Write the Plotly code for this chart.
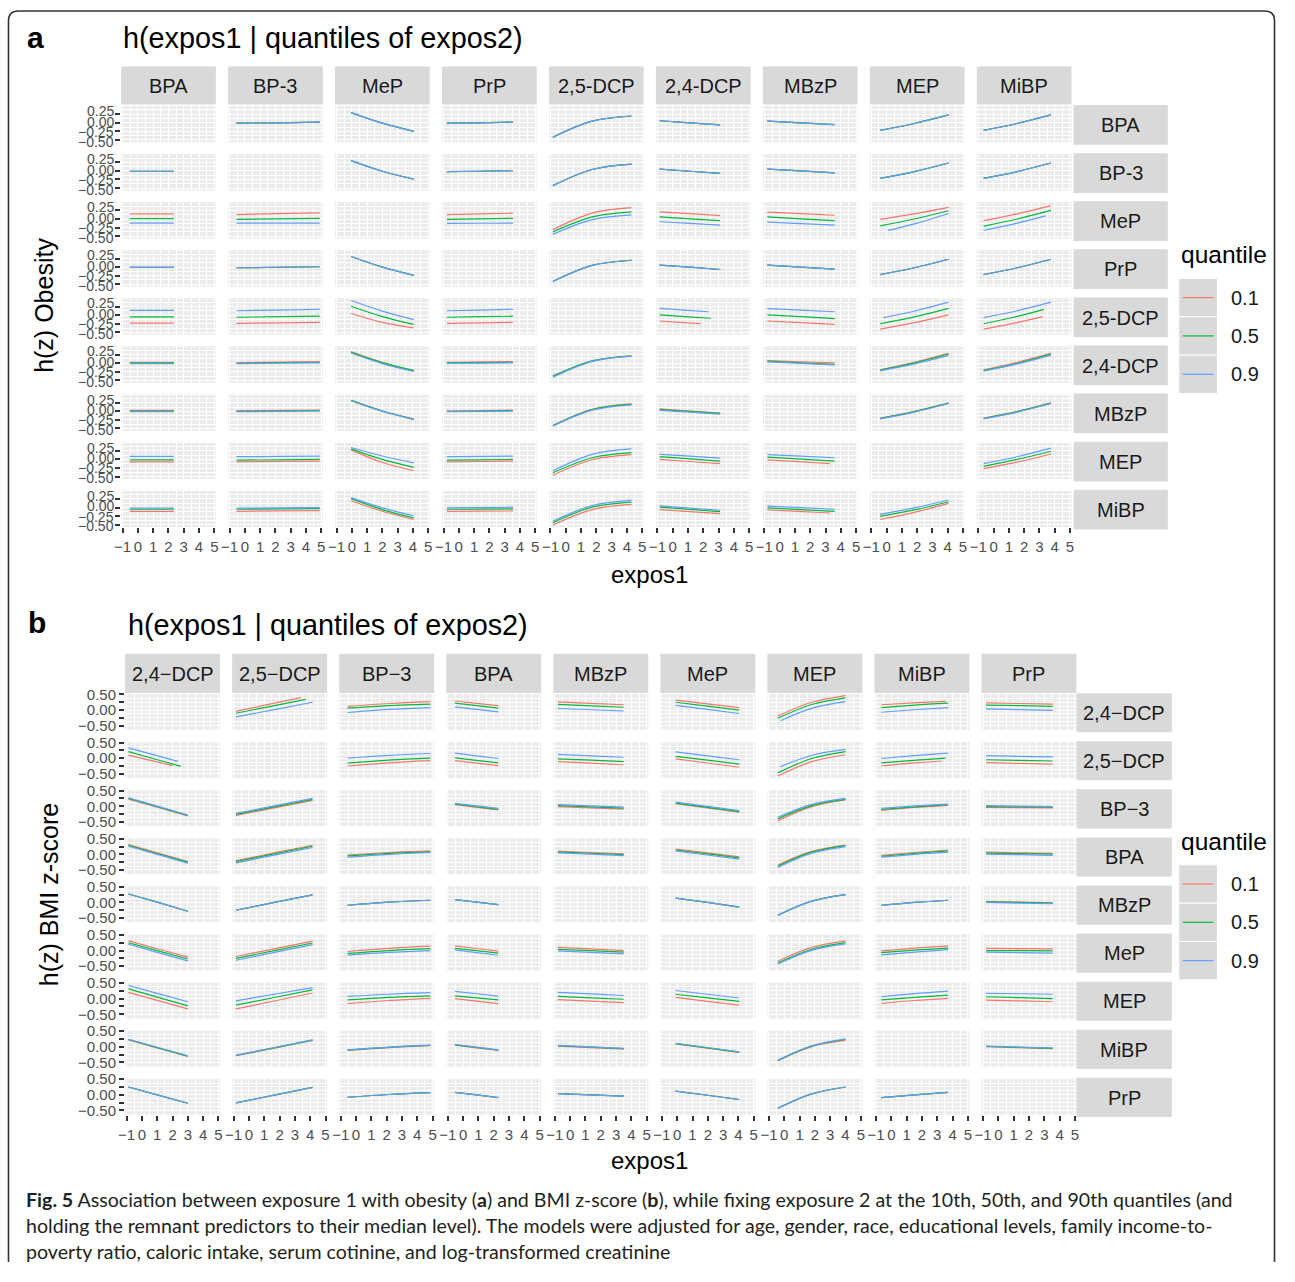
import plotly.graph_objects as go

# ---------------------------------------------------------------------------
# Data: h(expos1 | quantile of expos2).  Each cell is (start, middle, end) of
# the fitted curve over the observed range of expos1 for that column chemical.
# None marks the diagonal (a chemical paired with itself).
# ---------------------------------------------------------------------------
N = None

# ---- panel a: obesity ----
OB_VARS = ["BPA", "BP-3", "MeP", "PrP", "2,5-DCP", "2,4-DCP", "MBzP", "MEP", "MiBP"]
OB_XSPAN = [(-0.53, 2.35), (-0.55, 4.9), (-0.05, 4.05), (-0.78, 3.55), (-0.84, 4.3),
            (-0.85, 3.1), (-0.8, 3.6), (-0.42, 4.05), (-0.65, 3.75)]

OB_ROW_BPA = [N, (-0.01, 0.0, 0.02), (0.30, -0.01, -0.25), (-0.01, 0.0, 0.02), (-0.42, 0.05, 0.20),
              (0.06, 0.0, -0.06), (0.05, 0.0, -0.05), (-0.22, -0.02, 0.23), (-0.22, -0.02, 0.23)]
OB_ROW_BP3 = [(-0.01, -0.01, -0.01), N, (0.30, -0.01, -0.24), (-0.02, -0.01, 0.01), (-0.43, 0.04, 0.20),
              (0.05, -0.01, -0.07), (0.05, 0.0, -0.06), (-0.22, -0.02, 0.23), (-0.22, -0.02, 0.23)]
OB_ROW_PRP = [(-0.01, -0.01, -0.01), (-0.02, -0.005, 0.01), (0.31, 0.0, -0.24), N, (-0.42, 0.05, 0.20),
              (0.06, 0.0, -0.07), (0.06, 0.0, -0.06), (-0.22, -0.02, 0.23), (-0.22, -0.02, 0.23)]

OB_Q10 = [
    OB_ROW_BPA,
    OB_ROW_BP3,
    [(0.15, 0.15, 0.15), (0.13, 0.155, 0.18), N, (0.13, 0.15, 0.17), (-0.31, 0.17, 0.33),
     (0.21, 0.155, 0.10), (0.20, 0.155, 0.11), (-0.01, 0.15, 0.34), (-0.05, 0.15, 0.39)],
    OB_ROW_PRP,
    [(-0.23, -0.23, -0.23), (-0.24, -0.225, -0.21), (0.05, -0.21, -0.37), (-0.24, -0.225, -0.21), N,
     (-0.17, -0.21, -0.25), (-0.17, -0.22, -0.27), (-0.41, -0.22, 0.01), (-0.41, -0.24, -0.04)],
    [(0.03, 0.03, 0.03), (0.02, 0.035, 0.05), (0.34, 0.02, -0.22), (0.03, 0.04, 0.05), (-0.37, 0.065, 0.21),
     N, (0.08, 0.045, 0.01), (-0.19, 0.03, 0.29), (-0.19, 0.03, 0.29)],
    [(0.03, 0.03, 0.03), (0.02, 0.03, 0.04), (0.32, 0.01, -0.22), (0.01, 0.025, 0.04), (-0.41, 0.06, 0.22),
     (0.07, 0.01, -0.05), N, (-0.20, 0.0, 0.25), (-0.20, 0.0, 0.25)],
    [(-0.07, -0.07, -0.07), (-0.07, -0.06, -0.05), (0.28, -0.09, -0.33), (-0.07, -0.06, -0.05), (-0.46, -0.01, 0.14),
     (0.0, -0.06, -0.12), (-0.01, -0.065, -0.12), N, (-0.27, -0.08, 0.16)],
    [(-0.11, -0.11, -0.11), (-0.11, -0.10, -0.09), (0.20, -0.11, -0.35), (-0.11, -0.105, -0.10), (-0.51, -0.06, 0.09),
     (-0.06, -0.12, -0.18), (-0.07, -0.115, -0.16), (-0.35, -0.14, 0.12), N],
]
OB_Q50 = [
    OB_ROW_BPA,
    OB_ROW_BP3,
    [(0.01, 0.01, 0.01), (-0.01, 0.005, 0.02), N, (-0.01, 0.005, 0.02), (-0.38, 0.06, 0.21),
     (0.06, 0.005, -0.05), (0.06, 0.005, -0.05), (-0.20, 0.0, 0.24), (-0.21, 0.0, 0.25)],
    OB_ROW_PRP,
    [(-0.05, -0.05, -0.05), (-0.06, -0.045, -0.03), (0.26, -0.04, -0.27), (-0.06, -0.045, -0.03), N,
     (0.01, -0.04, -0.09), (0.01, -0.045, -0.10), (-0.25, -0.05, 0.20), (-0.25, -0.06, 0.17)],
    [(0.01, 0.01, 0.01), (0.0, 0.015, 0.03), (0.32, 0.02, -0.21), (0.01, 0.02, 0.03), (-0.38, 0.07, 0.22),
     N, (0.06, 0.015, -0.03), (-0.20, 0.01, 0.27), (-0.21, 0.0, 0.27)],
    [(0.01, 0.01, 0.01), (0.0, 0.01, 0.02), (0.32, 0.01, -0.23), (0.0, 0.01, 0.02), (-0.42, 0.05, 0.21),
     (0.05, 0.0, -0.06), N, (-0.21, -0.01, 0.24), (-0.21, -0.01, 0.24)],
    [(-0.01, -0.01, -0.01), (-0.02, -0.01, 0.0), (0.31, 0.0, -0.23), (-0.02, -0.01, 0.0), (-0.39, 0.05, 0.20),
     (0.08, 0.015, -0.05), (0.07, 0.01, -0.05), N, (-0.20, 0.0, 0.24)],
    [(-0.05, -0.05, -0.05), (-0.05, -0.04, -0.03), (0.26, -0.06, -0.30), (-0.05, -0.045, -0.04), (-0.44, 0.01, 0.16),
     (0.01, -0.055, -0.12), (-0.01, -0.06, -0.11), (-0.26, -0.07, 0.17), N],
]
OB_Q90 = [
    OB_ROW_BPA,
    OB_ROW_BP3,
    [(-0.12, -0.12, -0.12), (-0.12, -0.12, -0.12), N, (-0.13, -0.125, -0.12), (-0.45, -0.02, 0.12),
     (-0.08, -0.13, -0.18), (-0.09, -0.135, -0.18), (-0.34, -0.115, 0.16), (-0.33, -0.14, 0.09)],
    OB_ROW_PRP,
    [(0.14, 0.14, 0.14), (0.13, 0.15, 0.17), (0.43, 0.12, -0.13), (0.13, 0.15, 0.17), N,
     (0.20, 0.15, 0.10), (0.19, 0.145, 0.10), (-0.07, 0.13, 0.38), (-0.07, 0.13, 0.38)],
    [(-0.01, -0.01, -0.01), (-0.01, 0.0, 0.01), (0.30, -0.01, -0.24), (0.0, 0.005, 0.01), (-0.41, 0.055, 0.21),
     N, (0.04, -0.005, -0.05), (-0.22, -0.02, 0.23), (-0.23, -0.02, 0.24)],
    [(-0.01, -0.01, -0.01), (-0.01, 0.0, 0.01), (0.31, 0.0, -0.24), (-0.01, 0.0, 0.01), (-0.43, 0.035, 0.19),
     (0.03, -0.025, -0.08), N, (-0.22, -0.02, 0.23), (-0.22, -0.02, 0.23)],
    [(0.09, 0.09, 0.09), (0.08, 0.09, 0.10), (0.35, 0.10, -0.10), (0.08, 0.09, 0.10), (-0.33, 0.15, 0.31),
     (0.15, 0.095, 0.04), (0.14, 0.095, 0.05), N, (-0.12, 0.08, 0.33)],
    [(-0.02, -0.02, -0.02), (-0.02, -0.01, 0.0), (0.29, -0.01, -0.24), (-0.01, 0.0, 0.01), (-0.40, 0.06, 0.21),
     (0.05, -0.015, -0.08), (0.04, -0.005, -0.05), (-0.20, -0.01, 0.22), N],
]
# (row, col, quantile) -> (start, end) where a curve's expos1 range differs
OB_XSPAN_EDIT = {
    (2, 7, "0.9"): (0.08, None),
    (2, 8, "0.9"): (None, 3.4),
    (4, 5, "0.1"): (None, 1.85),
    (4, 5, "0.5"): (None, 2.49),
    (4, 5, "0.9"): (None, 2.36),
    (4, 7, "0.9"): (-0.2, None),
    (4, 8, "0.1"): (None, 3.21),
    (4, 8, "0.5"): (None, 3.3),
    (7, 6, "0.1"): (None, 3.29),
    (8, 6, "0.1"): (None, 3.29),
}

# ---- panel b: BMI z-score ----
BMI_VARS = ["2,4\u2212DCP", "2,5\u2212DCP", "BP\u22123", "BPA", "MBzP", "MeP", "MEP", "MiBP", "PrP"]
BMI_XSPAN = [(-0.88, 3.0), (-0.85, 4.15), (-0.55, 4.85), (-0.53, 2.3), (-0.8, 3.5),
             (-0.1, 4.05), (-0.42, 4.0), (-0.65, 3.7), (-0.8, 3.55)]

BMI_ROW_MBZP = [(0.27, 0.0, -0.28), (-0.25, 0.0, 0.24), (-0.09, 0.01, 0.07), (0.09, 0.01, -0.07), N,
                (0.14, 0.0, -0.15), (-0.41, 0.04, 0.25), (-0.09, 0.0, 0.07), (0.03, 0.01, -0.01)]
BMI_ROW_PRP = [(0.25, -0.01, -0.27), (-0.26, -0.01, 0.24), (-0.08, 0.01, 0.07), (0.08, -0.005, -0.09),
               (0.04, 0.0, -0.04), (0.12, -0.015, -0.15), (-0.43, 0.03, 0.25), (-0.09, 0.0, 0.08), N]

BMI_Q10 = [
    [N, (-0.04, 0.18, 0.40), (0.12, 0.21, 0.27), (0.29, 0.215, 0.14), (0.26, 0.215, 0.17),
     (0.32, 0.20, 0.08), (-0.19, 0.25, 0.46), (0.17, 0.23, 0.28), (0.23, 0.21, 0.19)],
    [(0.10, -0.07, -0.24), N, (-0.25, -0.15, -0.08), (-0.08, -0.16, -0.24), (-0.11, -0.16, -0.21),
     (-0.02, -0.155, -0.29), (-0.57, -0.11, 0.11), (-0.25, -0.16, -0.09), (-0.14, -0.165, -0.19)],
    [(0.23, -0.04, -0.31), (-0.29, -0.05, 0.19), N, (0.05, -0.035, -0.12), (-0.01, -0.05, -0.09),
     (0.08, -0.055, -0.19), (-0.46, -0.01, 0.20), (-0.13, -0.04, 0.03), (-0.04, -0.045, -0.05)],
    [(0.31, 0.04, -0.23), (-0.20, 0.045, 0.29), (-0.02, 0.06, 0.11), N, (0.10, 0.06, 0.02),
     (0.17, 0.045, -0.08), (-0.34, 0.095, 0.30), (-0.03, 0.06, 0.14), (0.07, 0.05, 0.03)],
    BMI_ROW_MBZP,
    [(0.31, 0.05, -0.21), (-0.19, 0.055, 0.30), (-0.03, 0.07, 0.14), (0.15, 0.065, -0.02), (0.10, 0.05, 0.0),
     N, (-0.34, 0.10, 0.31), (-0.01, 0.08, 0.15), (0.07, 0.06, 0.05)],
    [(0.20, -0.065, -0.33), (-0.33, -0.075, 0.18), (-0.16, -0.06, 0.01), (0.0, -0.08, -0.16), (-0.03, -0.08, -0.13),
     (0.04, -0.085, -0.21), N, (-0.15, -0.06, 0.01), (-0.05, -0.075, -0.10)],
    [(0.22, -0.045, -0.31), (-0.29, -0.045, 0.20), (-0.12, -0.03, 0.03), (0.05, -0.035, -0.12), (0.02, -0.03, -0.08),
     (0.09, -0.045, -0.18), (-0.45, 0.0, 0.20), N, (0.0, -0.03, -0.06)],
    BMI_ROW_PRP,
]
BMI_Q50 = [
    [N, (-0.10, 0.12, 0.34), (0.06, 0.14, 0.19), (0.22, 0.14, 0.06), (0.18, 0.135, 0.09),
     (0.25, 0.125, 0.0), (-0.26, 0.18, 0.39), (0.08, 0.16, 0.22), (0.16, 0.14, 0.12)],
    [(0.21, -0.025, -0.26), N, (-0.16, -0.06, 0.0), (0.01, -0.07, -0.15), (-0.02, -0.065, -0.11),
     (0.06, -0.065, -0.19), (-0.47, -0.01, 0.21), (-0.15, -0.07, 0.0), (-0.05, -0.07, -0.09)],
    [(0.25, -0.02, -0.29), (-0.26, -0.02, 0.22), N, (0.07, -0.015, -0.10), (0.02, -0.02, -0.06),
     (0.10, -0.035, -0.17), (-0.40, 0.02, 0.22), (-0.10, -0.02, 0.05), (-0.01, -0.02, -0.03)],
    [(0.29, 0.02, -0.25), (-0.23, 0.015, 0.26), (-0.05, 0.03, 0.08), N, (0.08, 0.035, -0.01),
     (0.14, 0.015, -0.11), (-0.38, 0.07, 0.28), (-0.06, 0.03, 0.11), (0.04, 0.025, 0.01)],
    BMI_ROW_MBZP[:8] + [(0.02, 0.0, -0.02)],
    [(0.25, -0.01, -0.27), (-0.25, -0.005, 0.24), (-0.09, 0.0, 0.06), (0.07, -0.005, -0.08), (0.04, -0.005, -0.05),
     N, (-0.40, 0.04, 0.25), (-0.07, 0.01, 0.08), (0.0, -0.005, -0.01)],
    [(0.31, 0.04, -0.23), (-0.21, 0.035, 0.28), (-0.04, 0.04, 0.09), (0.09, 0.025, -0.04), (0.07, 0.025, -0.02),
     (0.14, 0.025, -0.09), N, (-0.04, 0.04, 0.11), (0.06, 0.03, 0.0)],
    [(0.23, -0.035, -0.30), (-0.28, -0.035, 0.21), (-0.11, -0.02, 0.04), (0.06, -0.025, -0.11), (0.03, -0.015, -0.06),
     (0.10, -0.035, -0.17), (-0.44, 0.02, 0.23), N, (0.01, -0.02, -0.05)],
    BMI_ROW_PRP,
]
BMI_Q90 = [
    [N, (-0.22, 0.015, 0.25), (-0.08, 0.02, 0.08), (0.10, 0.02, -0.06), (0.05, 0.01, -0.03),
     (0.15, 0.02, -0.11), (-0.34, 0.07, 0.27), (-0.07, 0.01, 0.08), (0.04, 0.015, -0.01)],
    [(0.33, 0.115, -0.10), N, (0.0, 0.09, 0.15), (0.16, 0.075, -0.01), (0.12, 0.075, 0.03),
     (0.20, 0.075, -0.05), (-0.27, 0.10, 0.28), (-0.01, 0.08, 0.16), (0.08, 0.06, 0.04)],
    [(0.27, -0.005, -0.28), (-0.23, 0.01, 0.25), N, (0.09, 0.01, -0.07), (0.05, 0.01, -0.03),
     (0.13, -0.005, -0.14), (-0.35, 0.06, 0.25), (-0.07, 0.01, 0.07), (0.02, 0.005, -0.01)],
    [(0.26, -0.01, -0.28), (-0.27, -0.025, 0.22), (-0.09, 0.0, 0.06), N, (0.05, 0.005, -0.04),
     (0.11, -0.02, -0.15), (-0.42, 0.035, 0.25), (-0.09, 0.0, 0.07), (0.01, -0.01, -0.03)],
    BMI_ROW_MBZP[:8] + [(0.0, -0.02, -0.04)],
    [(0.20, -0.065, -0.33), (-0.31, -0.06, 0.19), (-0.15, -0.06, 0.0), (0.02, -0.065, -0.15), (-0.01, -0.06, -0.11),
     N, (-0.43, 0.005, 0.21), (-0.14, -0.05, 0.03), (-0.05, -0.065, -0.08)],
    [(0.42, 0.16, -0.10), (-0.07, 0.14, 0.35), (0.07, 0.14, 0.19), (0.23, 0.155, 0.08), (0.20, 0.15, 0.10),
     (0.26, 0.14, 0.02), N, (0.06, 0.16, 0.24), (0.17, 0.155, 0.14)],
    [(0.24, -0.025, -0.29), (-0.27, -0.025, 0.22), (-0.10, -0.01, 0.05), (0.07, -0.015, -0.10), (0.04, -0.005, -0.05),
     (0.11, -0.025, -0.16), (-0.43, 0.03, 0.25), N, (0.02, -0.01, -0.04)],
    BMI_ROW_PRP,
]
BMI_XSPAN_EDIT = {
    (0, 1, "0.1"): (None, 3.4),
    (0, 1, "0.5"): (None, 3.7),
    (0, 6, "0.9"): (-0.25, None),
    (0, 7, "0.1"): (None, 3.55),
    (1, 0, "0.1"): (None, 2.0),
    (1, 0, "0.5"): (None, 2.55),
    (1, 0, "0.9"): (None, 2.35),
    (1, 6, "0.9"): (-0.25, None),
    (1, 7, "0.1"): (None, 3.3),
    (1, 7, "0.5"): (None, 3.55),
}

QUANTILES = ["0.1", "0.5", "0.9"]
Q_COLORS = ["#F8766D", "#00BA38", "#619CFF"]
X_TICKS = [-1, 0, 1, 2, 3, 4, 5]
X_TICKTEXT = ["\u22121", "0", "1", "2", "3", "4", "5"]
OB_YTICKS = [0.25, 0.0, -0.25, -0.5]
OB_YTICKTEXT = ["0.25", "0.00", "\u22120.25", "\u22120.50"]
BMI_YTICKS = [0.5, 0.25, 0.0, -0.25, -0.5]
BMI_YTICKTEXT = ["0.50", "", "0.00", "", "\u22120.50"]

CAPTION = [
    "<b>Fig. 5</b> Association between exposure 1 with obesity (<b>a</b>) and BMI z-score (<b>b</b>), "
    "while fixing exposure 2 at the 10th, 50th, and 90th quantiles (and",
    "holding the remnant predictors to their median level). The models were adjusted for age, gender, "
    "race, educational levels, family income-to-",
    "poverty ratio, caloric intake, serum cotinine, and log-transformed creatinine",
]

# ---------------------------------------------------------------------------
# Layout helpers.  Positions below are page pixels; the page body keeps its
# default 8px margin, so the figure itself is 16px smaller than the window.
# ---------------------------------------------------------------------------
PAGE_W, PAGE_H, BODY = 1295, 1282, 8
W, H = PAGE_W - 2 * BODY, PAGE_H - 2 * BODY
FONT = "Liberation Sans, Arial, Helvetica, sans-serif"


def fx(x):
    return (x - BODY) / W


def fy(y):
    return 1 - (y - BODY) / H


fig = go.Figure()
axes = {}
shapes = []
annots = []
counter = [0]


def text(x, y, s, size, color="#1A1A1A", xanchor="center", angle=0, family=FONT):
    annots.append(dict(x=fx(x), y=fy(y), xref="paper", yref="paper", text=s, showarrow=False,
                       xanchor=xanchor, yanchor="middle", textangle=angle,
                       align=xanchor if xanchor in ("left", "right") else "center",
                       font=dict(family=family, size=size, color=color)))


def rect(x0, y0, x1, y1, fill, line_color=None, line_width=0):
    shapes.append(dict(type="rect", xref="paper", yref="paper", x0=fx(x0), x1=fx(x1),
                       y0=fy(y1), y1=fy(y0), fillcolor=fill, layer="below",
                       line=dict(color=line_color or fill, width=line_width)))


def facet_grid(col_names, row_names, xspan, qsets, edits, g):
    for r in range(9):
        for c in range(9):
            counter[0] += 1
            k = counter[0]
            xa, ya = ("xaxis", "yaxis") if k == 1 else (f"xaxis{k}", f"yaxis{k}")
            xr, yr = ("x", "y") if k == 1 else (f"x{k}", f"y{k}")
            x0 = g["col_x0"] + g["col_pitch"] * c
            y0 = g["row_y0"] + g["row_pitch"] * r
            bottom, left = r == 8, c == 0
            axes[xa] = dict(
                domain=[fx(x0), fx(x0 + g["pw"])], anchor=yr, range=[-1.1, 5.1],
                tickmode="array", tickvals=X_TICKS, ticktext=X_TICKTEXT, tickangle=0,
                showticklabels=bottom, ticks="outside" if bottom else "",
                ticklen=5, tickwidth=2, tickcolor="#333333", ticklabelstandoff=1,
                tickfont=dict(family=FONT, size=15, color="#4D4D4D"),
                showgrid=True, gridcolor="white", gridwidth=1.1,
                minor=dict(tickvals=[-0.5, 0.5, 1.5, 2.5, 3.5, 4.5], showgrid=True,
                           gridcolor="white", gridwidth=0.7),
                zeroline=False, showline=False, fixedrange=True,
            )
            axes[ya] = dict(
                domain=[fy(y0 + g["ph"]), fy(y0)], anchor=xr, range=g["yrange"],
                tickmode="array", tickvals=g["ytickvals"], ticktext=g["yticktext"],
                showticklabels=left and g["native_ylabels"], ticks="outside" if left else "",
                ticklen=5, tickwidth=2, tickcolor="#333333",
                tickfont=dict(family=FONT, size=15, color="#4D4D4D"),
                showgrid=True, gridcolor="white", gridwidth=1.1,
                minor=dict(tickvals=g["yminor"], showgrid=True, gridcolor="white", gridwidth=0.7),
                zeroline=False, showline=False, fixedrange=True,
            )
            # tick labels placed in a column beside the tick marks
            if left and not g["native_ylabels"]:
                for off, lab in zip(g["ylabel_offsets"], g["yticktext"]):
                    text(118, y0 + off, lab, 14, color="#4D4D4D", xanchor="right")
            # strips
            if r == 0:
                rect(x0, g["strip_top"], x0 + g["pw"], g["strip_bot"], "#D9D9D9")
                text(x0 + g["pw"] / 2, (g["strip_top"] + g["strip_bot"]) / 2 + 1, col_names[c], 20)
            if c == 8:
                rect(g["rs_x0"], y0 - 1, g["rs_x1"], y0 + g["ph"] + 2.5, "#D9D9D9")
                text((g["rs_x0"] + g["rs_x1"]) / 2, y0 + g["ph"] / 2 + 1, row_names[r], 20)
            # curves (an empty placeholder keeps the diagonal panel drawn)
            drawn = False
            for qname, qdata, color in qsets:
                cell = qdata[r][c]
                if cell is None:
                    continue
                drawn = True
                a, b = xspan[c]
                e = edits.get((r, c, qname))
                if e:
                    a = a if e[0] is None else e[0]
                    b = b if e[1] is None else e[1]
                fig.add_trace(go.Scatter(
                    x=[a, (a + b) / 2, b], y=list(cell), xaxis=xr, yaxis=yr, mode="lines",
                    line=dict(color=color, width=1.2, shape="spline"),
                    showlegend=False, hoverinfo="skip"))
            if not drawn:
                fig.add_trace(go.Scatter(x=[None], y=[None], xaxis=xr, yaxis=yr, mode="lines",
                                         showlegend=False, hoverinfo="skip"))


def legend(title_y, key_top):
    text(1189, title_y, "quantile", 24.5, color="#000000", xanchor="left")
    kh = 38.7
    for i, (q, col) in enumerate(zip(QUANTILES, Q_COLORS)):
        top = key_top + kh * i
        rect(1189, top, 1228, top + kh, "#D9D9D9", line_color="white", line_width=1)
        cy = top + kh / 2
        shapes.append(dict(type="line", xref="paper", yref="paper", x0=fx(1193), x1=fx(1224),
                           y0=fy(cy), y1=fy(cy), line=dict(color=col, width=1.2)))
        text(1240, cy, q, 20, color="#1A1A1A", xanchor="left")


GA = dict(col_x0=123, col_pitch=107.8, pw=95.5, row_y0=107, row_pitch=48.55, ph=36.6,
          strip_top=67, strip_bot=105.5, rs_x0=1083, rs_x1=1178, yrange=[-0.57, 0.49],
          ytickvals=OB_YTICKS, yticktext=OB_YTICKTEXT, native_ylabels=False,
          ylabel_offsets=[5.0, 15.6, 26.0, 36.0],
          yminor=[-0.375, -0.125, 0.125, 0.375])
GB = dict(col_x0=127, col_pitch=107.9, pw=95.7, row_y0=700.7, row_pitch=48.55, ph=36,
          strip_top=660, strip_bot=699.5, rs_x0=1086, rs_x1=1182, yrange=[-0.63, 0.51],
          ytickvals=BMI_YTICKS, yticktext=BMI_YTICKTEXT, native_ylabels=True,
          yminor=[-0.625, -0.375, -0.125, 0.125, 0.375])

facet_grid(OB_VARS, OB_VARS, OB_XSPAN,
           list(zip(QUANTILES, [OB_Q10, OB_Q50, OB_Q90], Q_COLORS)), OB_XSPAN_EDIT, GA)
facet_grid(BMI_VARS, BMI_VARS, BMI_XSPAN,
           list(zip(QUANTILES, [BMI_Q10, BMI_Q50, BMI_Q90], Q_COLORS)), BMI_XSPAN_EDIT, GB)

# panel letters, titles, axis titles
text(37, 38, "<b>a</b>", 30, color="#000000")
text(123, 38, "h(expos1 | quantiles of expos2)", 28.8, color="#000000", xanchor="left")
text(45, 308, "h(z) Obesity", 25, color="#000000", angle=-90)
text(656, 580, "expos1", 24, color="#000000")
legend(257, 281)

text(38, 628, "<b>b</b>", 30, color="#000000")
text(128, 631, "h(expos1 | quantiles of expos2)", 28.8, color="#000000", xanchor="left")
text(50, 903, "h(z) BMI z-score", 25, color="#000000", angle=-90)
text(656, 1172, "expos1", 24, color="#000000")
legend(849, 873)

# caption
for i, line in enumerate(CAPTION):
    text(25, 1211 + 26 * i, line, 19.6, color="#231F20", xanchor="left", family="Lato, Open Sans, sans-serif")

# open rounded frame (left, top and right sides) kept inside the figure area
bx0, by0, bx1, rad = 9.5, 11, BODY + W - 1.5, 10
by1 = BODY + H
path = (f"M {fx(bx0)},{fy(by1)} L {fx(bx0)},{fy(by0 + rad)} "
        f"Q {fx(bx0)},{fy(by0)} {fx(bx0 + rad)},{fy(by0)} "
        f"L {fx(bx1 - rad)},{fy(by0)} "
        f"Q {fx(bx1)},{fy(by0)} {fx(bx1)},{fy(by0 + rad)} L {fx(bx1)},{fy(by1)}")
shapes.append(dict(type="path", xref="paper", yref="paper", path=path,
                   line=dict(color="#333333", width=1.6), layer="above"))

fig.update_layout(
    width=W, height=H, autosize=False,
    margin=dict(l=0, r=0, t=0, b=0, pad=0),
    paper_bgcolor="white", plot_bgcolor="#EBEBEB",
    font=dict(family=FONT, color="#1A1A1A"),
    showlegend=False, hovermode=False,
    shapes=shapes, annotations=annots,
    **axes,
)

fig.write_html("out.html")
